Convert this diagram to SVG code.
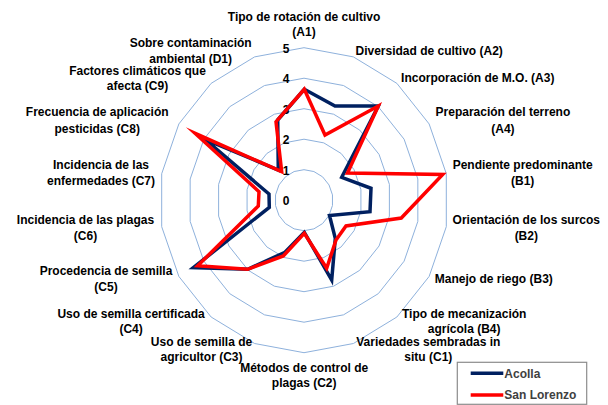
<svg xmlns="http://www.w3.org/2000/svg" width="608" height="405" viewBox="0 0 608 405">
<style>
.ring{fill:none;stroke:#8EB1DC;stroke-width:1;vector-effect:non-scaling-stroke}
.lbl{font-family:"Liberation Sans",Arial,sans-serif;font-size:12px;font-weight:bold;fill:#000;text-anchor:middle}
.tick{font-family:"Liberation Sans",Arial,sans-serif;font-size:12px;font-weight:bold;fill:#000;text-anchor:middle}
.ser{fill:none;stroke-width:3.5;stroke-linejoin:miter;stroke-miterlimit:10}
.acolla{stroke:#002060}
.sanlor{stroke:#FF0000}
.leg{font-family:"Liberation Sans",Arial,sans-serif;font-size:12px;font-weight:bold;fill:#404040}
</style>
<rect width="608" height="405" fill="#fff"/>
<g id="grid" transform="translate(304 200.2) scale(0.9475 1)">
<polygon class="ring" transform="scale(30.5)" points="0,-1 0.342,-0.9397 0.6428,-0.766 0.866,-0.5 0.9848,-0.1736 0.9848,0.1736 0.866,0.5 0.6428,0.766 0.342,0.9397 0,1 -0.342,0.9397 -0.6428,0.766 -0.866,0.5 -0.9848,0.1736 -0.9848,-0.1736 -0.866,-0.5 -0.6428,-0.766 -0.342,-0.9397"/>
<polygon class="ring" transform="scale(61)" points="0,-1 0.342,-0.9397 0.6428,-0.766 0.866,-0.5 0.9848,-0.1736 0.9848,0.1736 0.866,0.5 0.6428,0.766 0.342,0.9397 0,1 -0.342,0.9397 -0.6428,0.766 -0.866,0.5 -0.9848,0.1736 -0.9848,-0.1736 -0.866,-0.5 -0.6428,-0.766 -0.342,-0.9397"/>
<polygon class="ring" transform="scale(91.5)" points="0,-1 0.342,-0.9397 0.6428,-0.766 0.866,-0.5 0.9848,-0.1736 0.9848,0.1736 0.866,0.5 0.6428,0.766 0.342,0.9397 0,1 -0.342,0.9397 -0.6428,0.766 -0.866,0.5 -0.9848,0.1736 -0.9848,-0.1736 -0.866,-0.5 -0.6428,-0.766 -0.342,-0.9397"/>
<polygon class="ring" transform="scale(122)" points="0,-1 0.342,-0.9397 0.6428,-0.766 0.866,-0.5 0.9848,-0.1736 0.9848,0.1736 0.866,0.5 0.6428,0.766 0.342,0.9397 0,1 -0.342,0.9397 -0.6428,0.766 -0.866,0.5 -0.9848,0.1736 -0.9848,-0.1736 -0.866,-0.5 -0.6428,-0.766 -0.342,-0.9397"/>
<polygon class="ring" transform="scale(152.5)" points="0,-1 0.342,-0.9397 0.6428,-0.766 0.866,-0.5 0.9848,-0.1736 0.9848,0.1736 0.866,0.5 0.6428,0.766 0.342,0.9397 0,1 -0.342,0.9397 -0.6428,0.766 -0.866,0.5 -0.9848,0.1736 -0.9848,-0.1736 -0.866,-0.5 -0.6428,-0.766 -0.342,-0.9397"/>
</g>
<g id="ticks">
<text class="tick" x="286" y="52.5">5</text>
<text class="tick" x="286" y="83">4</text>
<text class="tick" x="286" y="113.5">3</text>
<text class="tick" x="286" y="144">2</text>
<text class="tick" x="286" y="174.5">1</text>
<text class="tick" x="286" y="204.5">0</text>
</g>
<g id="connectors">
<polygon id="serie-acolla" class="ser acolla" points="304.3,89.3 335,106 378.3,106 341.7,177.3 371,188.3 370,211.7 329.5,215.5 335.3,238.3 331.7,280 304.3,232.3 285,252.3 247.7,269.3 193.3,267.7 269.3,207.3 269,194 205,139.3 278.3,170 277.7,120"/>
<polygon id="serie-sanlorenzo" class="ser sanlor" points="304.3,89.3 325,135 378.3,106 347.5,173 442.7,174.5 401.3,218 346,226 336,240 326.7,268.3 304.3,233.3 283.3,256 247.7,269.3 197.7,265.7 258.3,206 259,191.7 195,133.3 281.7,171.7 276,121.7"/>
</g>
<g id="A1"><text class="lbl" x="304" y="20.7">Tipo de rotación de cultivo<tspan x="304" y="36.3">(A1)</tspan></text></g>
<g id="A2"><text class="lbl" x="429.2" y="54.7">Diversidad de cultivo (A2)</text></g>
<g id="A3"><text class="lbl" x="477.8" y="82.3">Incorporación de M.O. (A3)</text></g>
<g id="A4"><text class="lbl" x="502.9" y="116">Preparación del terreno<tspan x="502.9" y="132.7">(A4)</tspan></text></g>
<g id="B1"><text class="lbl" x="522.7" y="169">Pendiente predominante<tspan x="522.7" y="184.7">(B1)</tspan></text></g>
<g id="B2"><text class="lbl" x="526.3" y="224">Orientación de los surcos<tspan x="526.3" y="239.7">(B2)</tspan></text></g>
<g id="B3"><text class="lbl" x="493.8" y="283.3">Manejo de riego (B3)</text></g>
<g id="B4"><text class="lbl" x="464.2" y="318">Tipo de mecanización<tspan x="464.2" y="333.3">agrícola (B4)</tspan></text></g>
<g id="C1"><text class="lbl" x="428.3" y="346.3">Variedades sembradas in<tspan x="428.3" y="360.7">situ (C1)</tspan></text></g>
<g id="C2"><text class="lbl" x="304.2" y="371.7">Métodos de control de<tspan x="304.2" y="387.3">plagas (C2)</tspan></text></g>
<g id="C3"><text class="lbl" x="201.5" y="346.3">Uso de semilla de<tspan x="201.5" y="360.7">agricultor (C3)</tspan></text></g>
<g id="C4"><text class="lbl" x="131.1" y="318">Uso de semilla certificada<tspan x="131.1" y="333.3">(C4)</tspan></text></g>
<g id="C5"><text class="lbl" x="106" y="275">Procedencia de semilla<tspan x="106" y="290.7">(C5)</tspan></text></g>
<g id="C6"><text class="lbl" x="85.5" y="224">Incidencia de las plagas<tspan x="85.5" y="239.7">(C6)</tspan></text></g>
<g id="C7"><text class="lbl" x="101" y="169">Incidencia de las<tspan x="101" y="184.7">enfermedades (C7)</tspan></text></g>
<g id="C8"><text class="lbl" x="97.2" y="116">Frecuencia de aplicación<tspan x="97.2" y="132.7">pesticidas (C8)</tspan></text></g>
<g id="C9"><text class="lbl" x="137.5" y="74.7">Factores climáticos que<tspan x="137.5" y="90">afecta (C9)</tspan></text></g>
<g id="D1"><text class="lbl" x="190.7" y="47">Sobre contaminación<tspan x="190.7" y="62.5">ambiental (D1)</tspan></text></g>
<g id="legend">
<rect x="457.3" y="362.3" width="129.4" height="42" fill="#fff" stroke="#8C8C8C" stroke-width="1.2"/>
<line x1="470.7" y1="373.3" x2="503.3" y2="373.3" stroke="#002060" stroke-width="3.5"/>
<text class="leg" x="504.3" y="377.5">Acolla</text>
<line x1="470.7" y1="395" x2="503.3" y2="395" stroke="#FF0000" stroke-width="3.5"/>
<text class="leg" x="504.3" y="399.2">San Lorenzo</text>
</g>
</svg>
